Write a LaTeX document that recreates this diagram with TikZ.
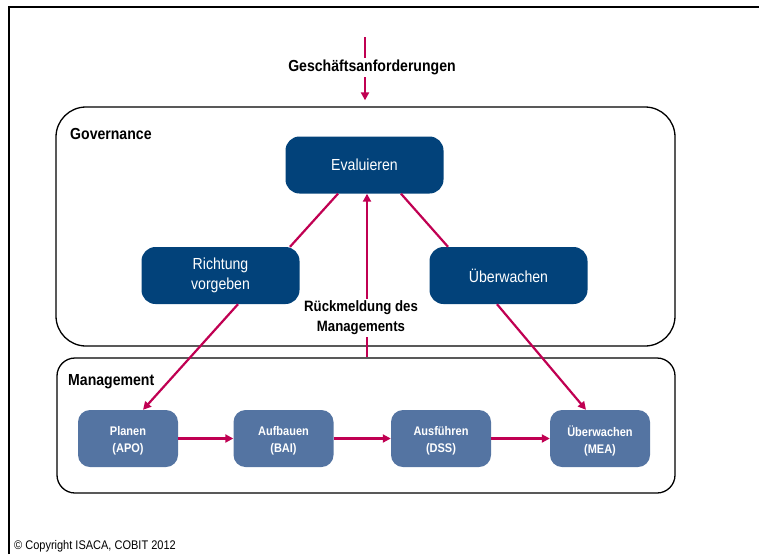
\documentclass[tikz,border=0pt]{standalone}
\usepackage{fontspec}
\setmainfont{Liberation Sans}[FakeStretch=0.88]
\usetikzlibrary{arrows.meta}

\definecolor{govblue}{RGB}{2,66,122}
\definecolor{mgmtblue}{RGB}{84,116,162}
\definecolor{flow}{RGB}{192,0,82}

\tikzset{
  govstep/.style={draw=none, fill=govblue, rounded corners=14pt, text=white,
    minimum width=158pt, minimum height=57pt, align=center,
    font=\fontsize{16}{20}\selectfont},
  mgmtstep/.style={draw=none, fill=mgmtblue, rounded corners=12pt, text=white,
    minimum width=100pt, minimum height=57pt, align=center,
    font=\bfseries\fontsize{12.5}{17}\selectfont},
  mgmttext/.style={text=white, align=center, inner sep=0pt,
    font=\bfseries\fontsize{12.5}{17}\selectfont},
  area/.style={draw=black, line width=1.3pt, inner sep=0pt},
  arealabel/.style={anchor=west, inner sep=0pt, font=\bfseries\fontsize{16}{18}\selectfont},
  link/.style={draw=flow, line width=2.2pt},
  flowarrow/.style={link, -{Triangle[length=8pt,width=8pt]}},
}

\begin{document}
\begin{tikzpicture}[x=1pt, y=-1pt]
  \useasboundingbox (0,0) rectangle (759,554);

  % page frame (top and left edges)
  \draw[line width=1.6pt] (9,554) -- (9,7) -- (759,7);

  % the two layers
  \node[area, rounded corners=30pt, minimum width=619pt, minimum height=239pt] (gov) at (365.5,226.5) {};
  \node[area, rounded corners=18pt, minimum width=618pt, minimum height=135pt] (mgmt) at (366,425.5) {};
  \node[arealabel] (govlabel) at (70,134) {Governance};
  \node[arealabel] (mgmtlabel) at (68,381.5) {Management};

  % governance steps
  \node[govstep] (eval) at (364.5,165) {Evaluieren};
  \node[govstep] (dir) at (220.5,275.5) {Richtung\\vorgeben};
  \node[govstep] (mon) at (508.5,275.5) {Überwachen};

  % management steps (labels sit a little below the box centre)
  \node[mgmtstep] (apo) at (128,438.5) {};
  \node[mgmtstep] (bai) at (283.5,438.5) {};
  \node[mgmtstep] (dss) at (441,438.5) {};
  \node[mgmtstep] (mea) at (600,438.5) {};
  \node[mgmttext] (apot) at ([yshift=-2pt]apo.center) {Planen\\(APO)};
  \node[mgmttext] (bait) at ([yshift=-2pt]bai.center) {Aufbauen\\(BAI)};
  \node[mgmttext] (dsst) at ([yshift=-2pt]dss.center) {Ausführen\\(DSS)};
  \node[mgmttext] (meat) at ([yshift=-2pt]mea.center) {Überwachen\\(MEA)};

  % business requirements entering from above
  \coordinate (req) at (365,37);
  \draw[flowarrow, shorten >=6pt] (req) -- (req |- gov.north);
  \node[fill=white, inner sep=2pt, font=\bfseries\fontsize{16}{18}\selectfont] (reqlabel) at (372,67.5) {Geschäftsanforderungen};

  % governance cycle
  \draw[link] ([xshift=-26.5pt]eval.south) -- ([xshift=69.5pt]dir.north);
  \draw[link] ([xshift=36.5pt]eval.south) -- ([xshift=-60.5pt]mon.north);

  % feedback from management
  \draw[flowarrow] ([xshift=1pt]mgmt.north) -- ([xshift=2.5pt]eval.south);
  \node[fill=white, inner sep=2pt, align=center, font=\bfseries\fontsize{15}{20}\selectfont] (feedback) at (361,318) {Rückmeldung des\\Managements};

  % governance to management
  \draw[flowarrow] ([xshift=17.5pt]dir.south) -- ([xshift=15pt]apo.north);
  \draw[flowarrow] ([xshift=-11.5pt]mon.south) -- ([xshift=-14pt]mea.north);

  % management chain
  \draw[flowarrow] (apo) -- (bai);
  \draw[flowarrow] (bai) -- (dss);
  \draw[flowarrow] (dss) -- (mea);

  % copyright line
  \node[anchor=west, inner sep=0pt, font=\fontsize{12.5}{14}\selectfont] (copy) at (14,546.5) {© Copyright ISACA, COBIT 2012};
\end{tikzpicture}
\end{document}
